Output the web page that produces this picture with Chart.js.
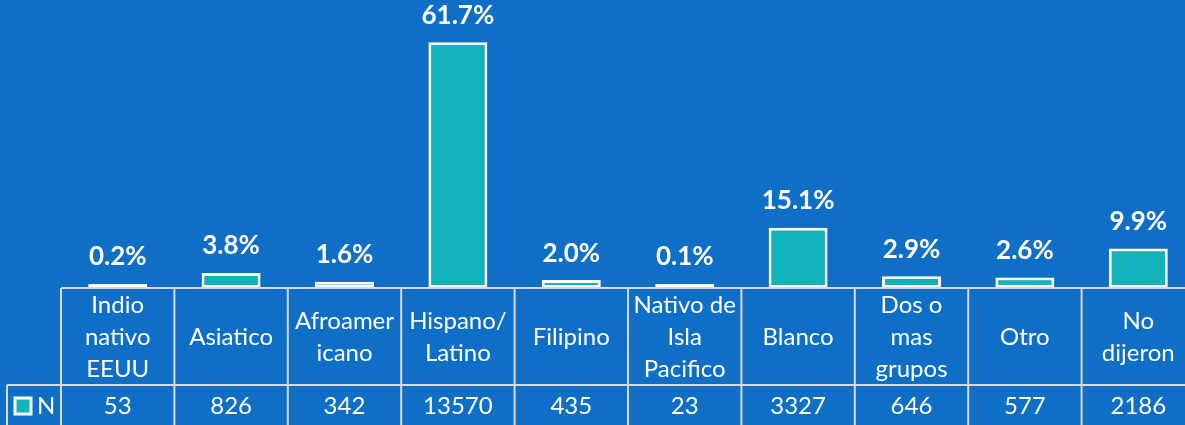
<!DOCTYPE html>
<html>
<head>
<meta charset="utf-8">
<script src="https://cdn.jsdelivr.net/npm/chart.js@4"></script>
<style>
  html, body { margin: 0; padding: 0; background: #0F6FC6; overflow: hidden; }
  #wrap { width: 1200px; height: 425px; }
</style>
</head>
<body>
<div id="wrap"><canvas id="c" width="1200" height="425"></canvas></div>
<script>
// ---- data ----
const categories = [
  ["Indio", "nativo", "EEUU"],
  ["Asiatico"],
  ["Afroamer", "icano"],
  ["Hispano/", "Latino"],
  ["Filipino"],
  ["Nativo de", "Isla", "Pacifico"],
  ["Blanco"],
  ["Dos o", "mas", "grupos"],
  ["Otro"],
  ["No", "dijeron"]
];
const countsN = [53, 826, 342, 13570, 435, 23, 3327, 646, 577, 2186];
const percentLabels = [0.2, 3.8, 1.6, 61.7, 2.0, 0.1, 15.1, 2.9, 2.6, 9.9];
const seriesName = "N";

// ---- style ----
const BG = "#0F6FC6";
const BAR = "#13B3BC";
const GRID = "#D9D9D9";
const FONT = "Lato, 'Open Sans', sans-serif";
const CAT_ROW_H = 97;
const LEGEND_LEFT = 7;

const tablePlugin = {
  id: "tablePlugin",
  afterDraw(chart) {
    const ctx = chart.ctx;
    const xs = chart.scales.x;
    const area = chart.chartArea;
    const H = chart.height;
    const n = categories.length;
    const step = (area.right - area.left) / n;
    const top = area.bottom;
    const rowY = top + CAT_ROW_H;
    ctx.save();
    ctx.strokeStyle = GRID;
    ctx.lineWidth = 2;
    ctx.beginPath();
    ctx.moveTo(area.left, top); ctx.lineTo(chart.width, top);
    ctx.moveTo(LEGEND_LEFT, rowY); ctx.lineTo(chart.width, rowY);
    for (let i = 0; i <= n; i++) {
      const x = area.left + i * step;
      ctx.moveTo(x, top); ctx.lineTo(x, H);
    }
    ctx.moveTo(LEGEND_LEFT, rowY); ctx.lineTo(LEGEND_LEFT, H);
    ctx.stroke();

    // category texts
    ctx.fillStyle = "#FFFFFF";
    ctx.textAlign = "center";
    ctx.textBaseline = "middle";
    ctx.font = "24px " + FONT;
    const lh = 32;
    categories.forEach((lines, i) => {
      const cx = xs.getPixelForValue(i);
      const mid = top + CAT_ROW_H / 2 + 1;
      const y0 = mid - (lines.length - 1) * lh / 2;
      lines.forEach((t, j) => ctx.fillText(t, cx, y0 + j * lh));
    });
    // N row
    const nMid = rowY + 21;
    countsN.forEach((v, i) => {
      ctx.fillText(String(v), xs.getPixelForValue(i), nMid);
    });
    // legend key
    ctx.fillStyle = BAR;
    ctx.fillRect(15, nMid - 8, 16, 16);
    ctx.strokeStyle = "#FFFFFF";
    ctx.lineWidth = 3;
    ctx.strokeRect(15, nMid - 8, 16, 16);
    ctx.fillStyle = "#FFFFFF";
    ctx.textAlign = "left";
    ctx.fillText(seriesName, 37, nMid);

    // percentage labels
    ctx.textAlign = "center";
    ctx.font = "bold 26px " + FONT;
    const meta = chart.getDatasetMeta(0);
    meta.data.forEach((bar, i) => {
      ctx.fillText(percentLabels[i].toFixed(1) + "%", bar.x, bar.y - 27);
    });
    ctx.restore();
  }
};

new Chart(document.getElementById("c"), {
  type: "bar",
  data: {
    labels: categories.map(l => l.join(" ")),
    datasets: [{
      label: seriesName,
      data: countsN,
      backgroundColor: BAR,
      borderColor: "#FFFFFF",
      borderWidth: 3,
      borderSkipped: false,
      minBarLength: 4,
      categoryPercentage: 0.52,
      barPercentage: 1
    }]
  },
  options: {
    responsive: false,
    animation: false,
    devicePixelRatio: 1,
    layout: { padding: { left: 61, right: 5, top: 0, bottom: 425 - 288 } },
    plugins: { legend: { display: false }, tooltip: { enabled: false }, title: { display: false } },
    scales: {
      x: { display: false, offset: true, grid: { display: false } },
      y: { display: false, min: 0, max: 15900, grid: { display: false } }
    }
  },
  plugins: [tablePlugin]
});
</script>
</body>
</html>
